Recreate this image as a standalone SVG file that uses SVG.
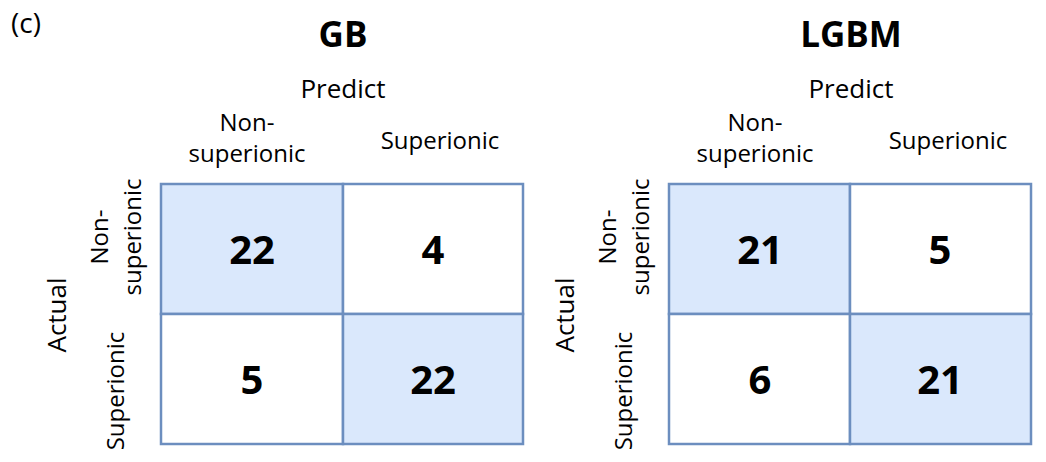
<svg xmlns="http://www.w3.org/2000/svg" width="1046" height="462" viewBox="0 0 1046 462">
<style>
text{font-family:"Open Sans","Liberation Sans",sans-serif;fill:#000}
.title{font-size:35px;font-weight:bold;text-anchor:middle}
.ax{font-size:26px;text-anchor:middle}
.lab{font-size:24px;text-anchor:middle}
.num{font-size:40px;font-weight:bold;text-anchor:middle}
.on{fill:#DAE8FC;stroke:#6C8EBF;stroke-width:2.5}
.off{fill:#FFFFFF;stroke:#6C8EBF;stroke-width:2.5}
</style>
<rect width="1046" height="462" fill="#fff"/>
<text x="11" y="33" style="font-size:28px">(c)</text>
<g id="gb">
<text class="title" x="343" y="47">GB</text>
<text class="ax" x="343" y="98">Predict</text>
<text class="lab" x="247" y="131">Non-</text>
<text class="lab" x="247" y="162">superionic</text>
<text class="lab" x="440" y="149">Superionic</text>
<text class="ax" transform="translate(66 315) rotate(-90)">Actual</text>
<text class="lab" transform="translate(108 237) rotate(-90)">Non-</text>
<text class="lab" transform="translate(141 237) rotate(-90)">superionic</text>
<text class="lab" transform="translate(124 391) rotate(-90)">Superionic</text>
<g id="gb-cells">
<rect class="on" x="161" y="184" width="182" height="130"/>
<rect class="off" x="343" y="184" width="180" height="130"/>
<rect class="off" x="161" y="314" width="182" height="130"/>
<rect class="on" x="343" y="314" width="180" height="130"/>
</g>
<text class="num" x="252" y="264">22</text>
<text class="num" x="433" y="264">4</text>
<text class="num" x="252" y="394">5</text>
<text class="num" x="433" y="394">22</text>
</g>
<g id="lgbm">
<text class="title" x="851" y="47">LGBM</text>
<text class="ax" x="851" y="98">Predict</text>
<text class="lab" x="755" y="131">Non-</text>
<text class="lab" x="755" y="162">superionic</text>
<text class="lab" x="948" y="149">Superionic</text>
<text class="ax" transform="translate(574 315) rotate(-90)">Actual</text>
<text class="lab" transform="translate(616 237) rotate(-90)">Non-</text>
<text class="lab" transform="translate(649 237) rotate(-90)">superionic</text>
<text class="lab" transform="translate(632 391) rotate(-90)">Superionic</text>
<g id="lgbm-cells">
<rect class="on" x="669" y="184" width="181" height="130"/>
<rect class="off" x="850" y="184" width="181" height="130"/>
<rect class="off" x="669" y="314" width="181" height="130"/>
<rect class="on" x="850" y="314" width="181" height="130"/>
</g>
<text class="num" x="760" y="264">21</text>
<text class="num" x="940" y="264">5</text>
<text class="num" x="760" y="394">6</text>
<text class="num" x="940" y="394">21</text>
</g>
<g id="connectors"></g>
</svg>
